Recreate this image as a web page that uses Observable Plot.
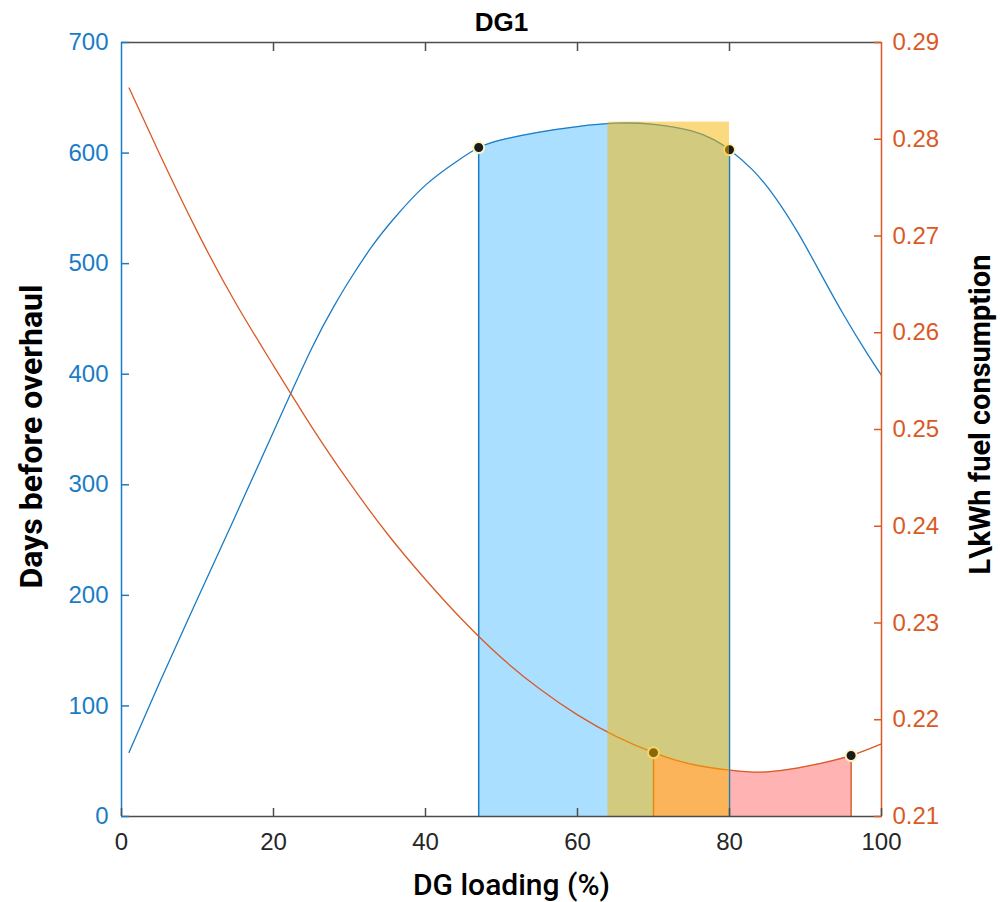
<!DOCTYPE html>
<html><head><meta charset="utf-8">
<script src="https://cdn.jsdelivr.net/npm/d3@7"></script>
<script src="https://cdn.jsdelivr.net/npm/@observablehq/plot@0.6"></script>
<style>body{margin:0;background:#fff} #chart svg{display:block}</style>
</head><body><div id="chart"></div>
<script>
// ---- data ----
const title = "DG1";
const xLabel = "DG loading (%)";
const leftLabel = "Days before overhaul";
const rightLabel = "L\\kWh fuel consumption";

const loading = [1,5,10,15,20,25,28,30,33,36,40,44,47,50,55,60,65,70,75,78,80,83,86,89,92,95,98,100];
const days    = [58,121,197,272,348,423,462,485,516,542,571,592,605,612,619,624,627,626,620,612,603,585,560,528,491,454,420,399];

const fuelLoading = [1,5,10,15,20,25,30,35,40,45,50,55,60,65,70,75,80,84,88,92,96,100];
const fuel        = [0.2853,0.2785,0.2704,0.2631,0.2566,0.2503,0.2445,0.2392,0.2345,0.2302,0.2264,0.2232,0.2205,0.2183,0.2166,0.2154,0.2148,0.21458,0.2149,0.2155,0.2163,0.2175];

const blueMarkX = [47, 80];
const blueMarkDays = [605, 603];
const fuelMarkX = [70, 96];
const fuelMarkVal = [0.2166, 0.2163];

const blueZone = [47, 80];
const pinkZone = [70, 96];
const bandX = [64, 80];
const bandTop = 628;

const xTicks = [0,20,40,60,80,100];
const daysTicks = [0,100,200,300,400,500,600,700];
const fuelTicks = [0.21,0.22,0.23,0.24,0.25,0.26,0.27,0.28,0.29];
const daysDomain = [0,700];
const fuelDomain = [0.21,0.29];

// ---- styles ----
const BLUE = "#1a7cc6", ORANGE = "#d95a26", GRAY = "#4d4d4d", TXT = "#262626";
const tickFont = "Liberation Sans, Arial, Helvetica, sans-serif";
const labelFont = "Roboto, 'DejaVu Sans', sans-serif";

const toDays = v => (v - fuelDomain[0]) / (fuelDomain[1] - fuelDomain[0]) * (daysDomain[1] - daysDomain[0]) + daysDomain[0];
const fromDays = d => fuelDomain[0] + (d - daysDomain[0]) / (daysDomain[1] - daysDomain[0]) * (fuelDomain[1] - fuelDomain[0]);

const blueTbl = loading.map((x, i) => ({x, y: days[i]}));
const fuelTbl = fuelLoading.map((x, i) => ({x, y: toDays(fuel[i])}));
const blueMarks = blueMarkX.map((x, i) => ({x, y: blueMarkDays[i]}));
const fuelMarks = fuelMarkX.map((x, i) => ({x, y: toDays(fuelMarkVal[i])}));
const inZone = (z) => d => d.x >= z[0] && d.x <= z[1];
const curve = "natural";

const chart = Plot.plot({
  width: 1000, height: 902,
  marginLeft: 121, marginRight: 119, marginTop: 42, marginBottom: 86,
  x: {domain: [0, 100]},
  y: {domain: daysDomain},
  style: {fontFamily: tickFont, background: "#fff"},
  marks: [
    Plot.areaY(blueTbl.filter(inZone(blueZone)), {x: "x", y: "y", fill: "#abdfff", curve}),
    Plot.areaY(fuelTbl.filter(inZone(pinkZone)), {x: "x", y: "y", fill: "#ffb3b3", curve}),
    Plot.ruleX(blueMarks, {x: "x", y1: 0, y2: "y", stroke: BLUE, strokeWidth: 1.5}),
    Plot.ruleX(fuelMarks, {x: "x", y1: 0, y2: "y", stroke: ORANGE, strokeWidth: 1.5}),
    Plot.line(blueTbl, {x: "x", y: "y", stroke: BLUE, strokeWidth: 1.3, curve}),
    Plot.line(fuelTbl, {x: "x", y: "y", stroke: ORANGE, strokeWidth: 1.3, curve}),
    Plot.dot(blueMarks.concat(fuelMarks), {x: "x", y: "y", r: 5.5, fill: "#1a1a1a", stroke: "#fbf3c0", strokeWidth: 2}),
    Plot.rect([{x1: bandX[0], x2: bandX[1], y1: 0, y2: bandTop}], {x1: "x1", x2: "x2", y1: "y1", y2: "y2", fill: "#f7b500", fillOpacity: 0.5}),
    // box
    Plot.ruleY([daysDomain[1]], {stroke: GRAY, strokeWidth: 1.5}),
    Plot.ruleY([daysDomain[0]], {stroke: GRAY, strokeWidth: 1.5}),
    Plot.ruleX([0], {stroke: BLUE, strokeWidth: 1.5}),
    Plot.ruleX([100], {stroke: ORANGE, strokeWidth: 1.5}),
    // axes
    Plot.axisX({anchor: "bottom", ticks: xTicks, tickSize: -8, tickPadding: 24, fontSize: 24, color: TXT, stroke: GRAY, strokeWidth: 1.5, label: null}),
    Plot.axisX({anchor: "top", ticks: xTicks.slice(1, -1), tickSize: -8, tickFormat: () => "", stroke: GRAY, strokeWidth: 1.5, label: null}),
    Plot.axisY({anchor: "left", ticks: daysTicks, tickSize: -8, tickPadding: 21, fontSize: 24, color: BLUE, strokeWidth: 1.5, label: null}),
    Plot.axisY({anchor: "right", ticks: fuelTicks.map(toDays), tickFormat: d => fromDays(d).toFixed(2), tickSize: -8, tickPadding: 19, fontSize: 24, color: ORANGE, strokeWidth: 1.5, label: null}),
    // titles
    Plot.text([title], {text: d => d, frameAnchor: "top", lineAnchor: "middle", dy: -20, fontSize: 26, fontWeight: "bold", fill: "#000"}),
    Plot.text([xLabel], {text: d => d, frameAnchor: "bottom", lineAnchor: "middle", dy: 69, dx: 10, fontSize: 30, fontWeight: 500, fontFamily: labelFont, fill: "#000"}),
    Plot.text([leftLabel], {text: d => d, frameAnchor: "left", textAnchor: "middle", lineAnchor: "middle", rotate: -90, dx: -90, dy: 7, fontSize: 32, fontWeight: "bold", fontFamily: labelFont, fill: "#000"}),
    Plot.text([rightLabel], {text: d => d, frameAnchor: "right", textAnchor: "middle", lineAnchor: "middle", rotate: -90, dx: 99, dy: -15, fontSize: 29, fontWeight: "bold", fontFamily: labelFont, fill: "#000"})
  ]
});
document.getElementById("chart").appendChild(chart);
</script>
</body></html>
